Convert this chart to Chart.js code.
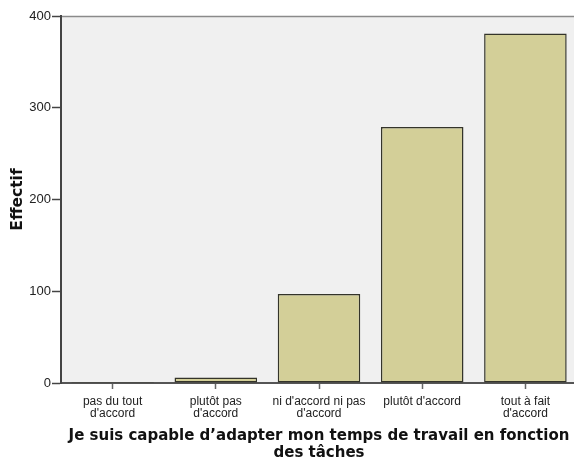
<!DOCTYPE html>
<html>
<head>
<meta charset="utf-8">
<script src="https://cdn.jsdelivr.net/npm/chart.js@4.4.0/dist/chart.umd.min.js"></script>
<style>
  html, body { margin: 0; padding: 0; background: #fff; }
  #wrap { width: 574px; height: 461px; position: relative; overflow: hidden; }
</style>
</head>
<body>
<div id="wrap"><canvas id="c" width="580" height="461"></canvas></div>
<script>
// categories and counts
const categories = [
  ['pas du tout', "d'accord"],
  ['plutôt pas', "d'accord"],
  ["ni d'accord ni pas", "d'accord"],
  ["plutôt d'accord"],
  ['tout à fait', "d'accord"]
];
const counts = [1, 6, 97, 279, 381];
const yTicks = [0, 100, 200, 300, 400];
const xTitle = ['Je suis capable d\u2019adapter mon temps de travail en fonction', 'des tâches'];
const yTitle = 'Effectif';

// plot background + top frame line
const plotBg = {
  id: 'plotBg',
  beforeDraw(chart) {
    const a = chart.chartArea, ctx = chart.ctx;
    ctx.save();
    ctx.fillStyle = '#f0f0f0';
    ctx.fillRect(a.left, a.top, a.right - a.left, a.bottom - a.top);
    ctx.strokeStyle = '#8a8a8a';
    ctx.lineWidth = 1.5;
    ctx.beginPath();
    ctx.moveTo(a.left, a.top + 0.5);
    ctx.lineTo(a.right, a.top + 0.5);
    ctx.stroke();
    ctx.restore();
  }
};

new Chart(document.getElementById('c').getContext('2d'), {
  type: 'bar',
  data: {
    labels: categories,
    datasets: [{
      data: counts,
      backgroundColor: '#d3cf98',
      borderColor: '#34342a',
      borderWidth: 1.5,
      borderSkipped: false,
      categoryPercentage: 0.8,
      barPercentage: 1
    }]
  },
  options: {
    responsive: false,
    animation: false,
    layout: { padding: { top: 16, right: 3, left: 9, bottom: 0 } },
    plugins: { legend: { display: false }, tooltip: { enabled: false } },
    scales: {
      x: {
        grid: { drawOnChartArea: false, offset: false, tickLength: 6, color: '#666', tickWidth: 1.5 },
        border: { color: '#555', width: 2 },
        ticks: {
          color: '#222',
          font: { family: 'Arial, Liberation Sans', size: 12, lineHeight: 1.05 },
          padding: 6,
          maxRotation: 0,
          autoSkip: false
        },
        title: {
          display: true,
          text: xTitle,
          color: '#111',
          font: { family: 'DejaVu Sans', size: 15, weight: 'bold', lineHeight: 1.1 },
          padding: { top: 2, bottom: 0 }
        },
        afterFit(scale) { scale.height = 78; }
      },
      y: {
        min: 0,
        max: 400,
        afterBuildTicks(scale) { scale.ticks = yTicks.map(v => ({ value: v })); },
        grid: { drawOnChartArea: false, tickLength: 9, color: '#444', tickWidth: 1.5 },
        border: { color: '#444', width: 2 },
        ticks: {
          color: '#222',
          font: { family: 'Arial, Liberation Sans', size: 13 },
          padding: 1
        },
        title: {
          display: true,
          text: yTitle,
          color: '#111',
          font: { family: 'DejaVu Sans', size: 15.5, weight: 'bold' },
          padding: { top: 0, bottom: 4 }
        },
        afterFit(scale) { scale.width = 52; }
      }
    }
  },
  plugins: [plotBg]
});
</script>
</body>
</html>
